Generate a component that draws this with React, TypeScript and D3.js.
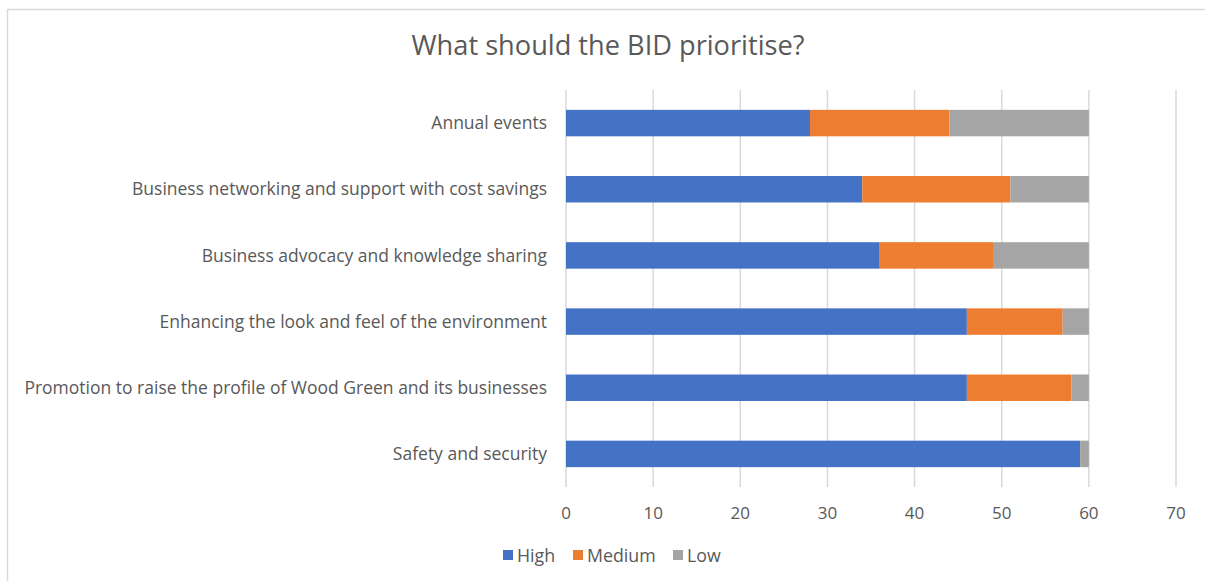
import React from "react";
import * as d3 from "d3";

const categories = [
  "Annual events",
  "Business networking and support with cost savings",
  "Business advocacy and knowledge sharing",
  "Enhancing the look and feel of the environment",
  "Promotion to raise the profile of Wood Green and its businesses",
  "Safety and security",
];
const highValues = [28, 34, 36, 46, 46, 59];
const mediumValues = [16, 17, 13, 11, 12, 0];
const lowValues = [16, 9, 11, 3, 2, 1];
const seriesNames = ["High", "Medium", "Low"];
const seriesColors = ["#4472C4", "#ED7D31", "#A5A5A5"];
const xTicks = [0, 10, 20, 30, 40, 50, 60, 70];
const title = "What should the BID prioritise?";

const W = 1205;
const H = 581;
const FONT = "'Open Sans', 'Noto Sans', sans-serif";
const TEXT = "#595959";

export default function App() {
  const x = d3.scaleLinear().domain([0, 70]).range([566, 1176]);
  const y = d3.scaleBand().domain(categories).range([90, 487]).paddingInner(0.6).paddingOuter(0.3);

  const rows = categories.map((c, i) => ({
    cat: c,
    High: highValues[i],
    Medium: mediumValues[i],
    Low: lowValues[i],
  }));
  const stacked = d3.stack<any>().keys(seriesNames)(rows);

  const legendX = [503, 573, 673];

  return (
    <div style={{ position: "absolute", left: 0, top: 0 }}>
      <svg width={W} height={H} style={{ display: "block", fontFamily: FONT }}>
        <rect x={0} y={0} width={W} height={H} fill="#fff" />
        <line x1={7} y1={9.5} x2={W} y2={9.5} stroke="#D9D9D9" strokeWidth={1.5} />
        <line x1={7.5} y1={9} x2={7.5} y2={H} stroke="#D9D9D9" strokeWidth={1.5} />
        <text x={608} y={55} textAnchor="middle" fontSize={27.2} fill={TEXT}>
          {title}
        </text>
        {xTicks.map((t) => (
          <g key={t}>
            <line x1={x(t)} x2={x(t)} y1={90} y2={487} stroke="#D9D9D9" strokeWidth={1.5} />
            <text x={x(t)} y={519} textAnchor="middle" fontSize={17} fill={TEXT}>
              {t}
            </text>
          </g>
        ))}
        {stacked.map((s, si) => (
          <g key={s.key} fill={seriesColors[si]}>
            {s.map((d: any, i: number) =>
              d[1] - d[0] > 0 ? (
                <rect
                  key={i}
                  x={x(d[0])}
                  width={x(d[1]) - x(d[0])}
                  y={y(categories[i])}
                  height={y.bandwidth()}
                />
              ) : null
            )}
          </g>
        ))}
        {categories.map((c) => (
          <text
            key={c}
            x={547}
            y={(y(c) as number) + y.bandwidth() / 2}
            dy="0.35em"
            textAnchor="end"
            fontSize={17.5}
            fill={TEXT}
          >
            {c}
          </text>
        ))}
        {seriesNames.map((n, i) => (
          <g key={n}>
            <rect x={legendX[i]} y={550} width={10} height={10} fill={seriesColors[i]} />
            <text x={legendX[i] + 14} y={562} fontSize={17.8} fill={TEXT}>
              {n}
            </text>
          </g>
        ))}
      </svg>
    </div>
  );
}
